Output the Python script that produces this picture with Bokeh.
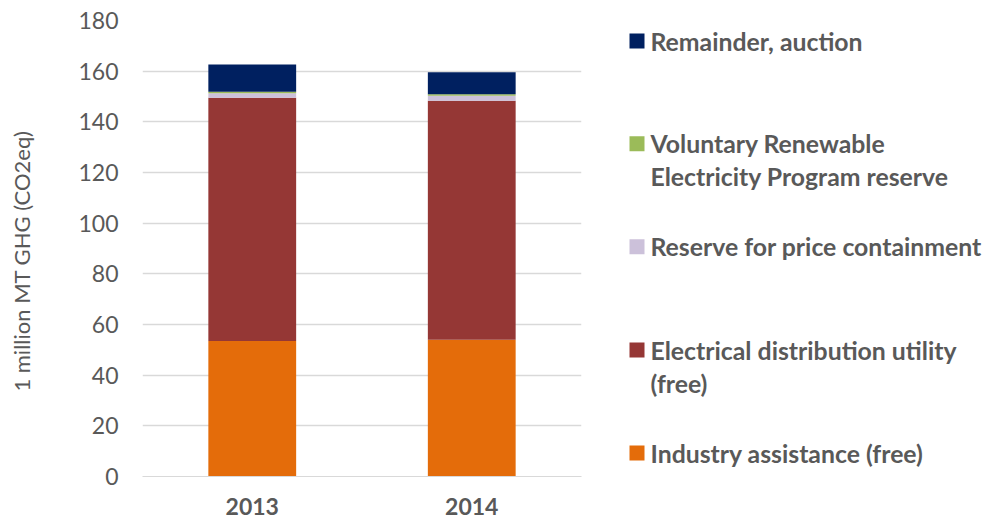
import math
from bokeh.plotting import figure
from bokeh.models import ColumnDataSource, FactorRange, Range1d, FixedTicker
from bokeh.layouts import row
from bokeh.core.properties import value
from bokeh.embed import file_html
from bokeh.resources import INLINE

# ---- data (million MT GHG, CO2eq) ----
years = ["2013", "2014"]
industry = [53.5, 54.0]
electrical = [96.0, 94.3]
reserve = [1.8, 2.0]
voluntary = [0.6, 0.6]
remainder = [10.7, 8.7]

series = ["industry", "electrical", "reserve", "voluntary", "remainder"]
series_labels = ["Industry assistance (free)",
                 "Electrical distribution utility\n(free)",
                 "Reserve for price containment",
                 "Voluntary Renewable\nElectricity Program reserve",
                 "Remainder, auction"]
colors = ["#E46C0A", "#953735", "#CCC1DA", "#9BBB59", "#002060"]
y_ticks = [0, 20, 40, 60, 80, 100, 120, 140, 160, 180]
y_title = "1 million MT GHG (CO2eq)"

TXT = "#595959"
FONT = "Lato"
H = 523
TOP, FRAME_H = 20, 456
BOT = H - TOP - FRAME_H
T_W = 60                 # width of the strip holding the y-axis title
LEFT = 142 - T_W
P_W = 591 - T_W


def panel(x0, x1, w):
    """Blank panel whose data coordinates equal page pixels (y from top)."""
    f = figure(x_range=Range1d(x0, x1), y_range=Range1d(TOP + FRAME_H, TOP),
               width=w, height=H,
               min_border_left=0, min_border_right=0,
               min_border_top=TOP, min_border_bottom=BOT,
               output_backend="svg", toolbar_location=None)
    f.axis.visible = False
    f.grid.visible = False
    f.outline_line_color = None
    return f


# ---- y-axis title strip ----
tt = panel(0, T_W, T_W)
tt.text(x=[21], y=[260.5], text=[y_title], angle=math.pi / 2,
        text_font=value(FONT), text_font_size="22px", text_color=TXT,
        text_align="center", text_baseline="middle")

# ---- chart ----
src = ColumnDataSource(dict(years=years, industry=industry, electrical=electrical,
                            reserve=reserve, voluntary=voluntary, remainder=remainder))

p = figure(x_range=FactorRange(factors=years, range_padding=0),
           y_range=Range1d(0, 180),
           width=P_W, height=H,
           min_border_left=LEFT, min_border_right=10,
           min_border_top=TOP, min_border_bottom=BOT,
           output_backend="svg", toolbar_location=None)
p.vbar_stack(series, x="years", width=0.4, source=src, color=colors, line_width=0)

p.outline_line_color = None
p.xgrid.grid_line_color = None
p.ygrid.grid_line_color = "#D9D9D9"
p.ygrid.grid_line_width = 1.3

p.yaxis.ticker = FixedTicker(ticks=y_ticks)
p.yaxis.axis_line_color = None
p.yaxis.major_tick_line_color = None
p.yaxis.minor_tick_line_color = None
p.yaxis.major_tick_out = 0
p.yaxis.major_label_text_font = FONT
p.yaxis.major_label_text_font_size = "23px"
p.yaxis.major_label_text_color = TXT
p.yaxis.major_label_standoff = 24

p.xaxis.axis_line_color = "#D9D9D9"
p.xaxis.major_tick_line_color = None
p.xaxis.minor_tick_line_color = None
p.xaxis.major_tick_out = 0
p.xaxis.major_label_text_font = FONT
p.xaxis.major_label_text_font_style = "bold"
p.xaxis.major_label_text_font_size = "23px"
p.xaxis.major_label_text_color = TXT
p.xaxis.major_label_standoff = 21

# ---- legend panel ----
lg = panel(591, 986, 986 - 591)

order = [4, 3, 2, 1, 0]            # top-to-bottom order of the legend
item_y = [40.5, 143.3, 246.3, 349.5, 452.5]
line_gap = 33
sq_x, sq_y, sq_c, tx_x, tx_y, tx_s = [], [], [], [], [], []
for k, yy in zip(order, item_y):
    sq_x.append(636.5)
    sq_y.append(yy)
    sq_c.append(colors[k])
    for j, line in enumerate(series_labels[k].split("\n")):
        tx_x.append(650)
        tx_y.append(yy + j * line_gap)
        tx_s.append(line)
lg.rect(x=sq_x, y=sq_y, width=15, height=15, color=sq_c, line_width=0)
lg.text(x=tx_x, y=tx_y, text=tx_s, text_font=value(FONT), text_font_style="bold",
        text_font_size="24.8px", text_color=TXT, text_baseline="middle", text_align="left")

layout = row(tt, p, lg)
open("out.html", "w").write(file_html(layout, INLINE))
